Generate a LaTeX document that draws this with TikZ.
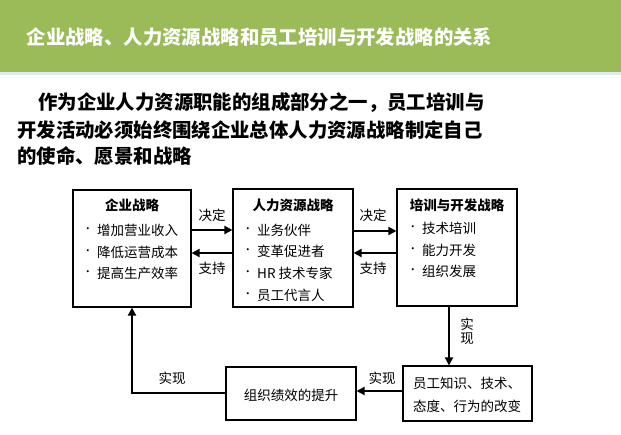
\documentclass[tikz,border=0pt]{standalone}
\usepackage{fontspec}
\setmainfont{Noto Sans CJK SC}
\usetikzlibrary{arrows.meta}
\definecolor{bandgreen}{HTML}{9BBB59}
\definecolor{bandline}{HTML}{DCECF2}
\tikzset{
  box/.style={draw=black, line width=1.2pt, minimum width=#1, inner sep=0pt},
  box/.default=120pt,
  ttl/.style={font=\fontsize{13.5}{15}\selectfont\bfseries, inner sep=0pt},
  itm/.style={font=\fontsize{13.5}{15}\selectfont, inner sep=0pt, anchor=west,
     label={[font=\fontsize{10}{12}\selectfont, inner sep=0pt, label distance=4pt]left:{•}}},
  lbl/.style={font=\fontsize{13.5}{15}\selectfont, inner sep=0pt},
  arr/.style={line width=2.2pt, -{Triangle[length=8pt,width=8pt]}},
  body/.style={font=\fontsize{19.4}{22}\selectfont\bfseries, inner sep=0pt, anchor=west},
}
\begin{document}
\begin{tikzpicture}[x=1pt,y=-1pt]
\useasboundingbox (0,0) rectangle (621,435);
\fill[white] (0,0) rectangle (621,435);
\fill[bandgreen] (0,0) rectangle (621,72);
\fill[bandline] (0,72) rectangle (621,75);
\node[font=\fontsize{19.4}{22}\selectfont\bfseries, text=white, inner sep=0pt] (title) at (259.5,37) {企业战略、人力资源战略和员工培训与开发战略的关系};
\node[body] (l1) at (38,103) {作为企业人力资源职能的组成部分之一，员工培训与};
\node[body] (l2) at (17,130) {开发活动必须始终围绕企业总体人力资源战略制定自己};
\node[body] (l3) at (17,156) {的使命、愿景和战略};

\node[box=118pt, minimum height=117pt] (b1) at (132,248.5) {};
\node[box=120pt, minimum height=118pt] (b2) at (293,248) {};
\node[box=120pt, minimum height=117pt] (b3) at (457,247.5) {};
\node[box=129pt, minimum height=55pt] (b4) at (467.5,393.5) {};
\node[box=130pt, minimum height=53pt] (b5) at (291,393.5) {};

\node[ttl] (t1) at (132,205) {企业战略};
\node[itm] (i11) at (97,230) {增加营业收入};
\node[itm] (i12) at (97,252) {降低运营成本};
\node[itm] (i13) at (97,273) {提高生产效率};

\node[ttl] (t2) at (293,205) {人力资源战略};
\node[itm] (i21) at (257,230) {业务伙伴};
\node[itm] (i22) at (257,251) {变革促进者};
\node[itm] (i23) at (257,273) {HR 技术专家};
\node[itm] (i24) at (257,295) {员工代言人};

\node[ttl] (t3) at (457,205) {培训与开发战略};
\node[itm] (i31) at (422,228) {技术培训};
\node[itm] (i32) at (422,250) {能力开发};
\node[itm] (i33) at (422,271) {组织发展};

\node[lbl, align=left, anchor=west] (t4) at (413,394.5) {员工知识、技术、\\[8pt]态度、行为的改变};
\node[lbl] (t5) at (291,395) {组织绩效的提升};

\draw[arr] (b1.east |- 0,230) -- (b2.west |- 0,230);
\draw[arr] (b2.west |- 0,253) -- (b1.east |- 0,253);
\draw[arr] (b2.east |- 0,231) -- (b3.west |- 0,231);
\draw[arr] (b3.west |- 0,253) -- (b2.east |- 0,253);
\draw[arr] (b3.south -| 449,0) -- (b4.north -| 449,0);
\draw[arr] (b4.west |- 0,391) -- (b5.east |- 0,391);
\draw[arr] (b5.west |- 0,393) -- (132,393) -- (b1.south -| 132,0);

\node[lbl] (d1) at (212,215) {决定};
\node[lbl] (s1) at (212,268) {支持};
\node[lbl] (d2) at (373,215) {决定};
\node[lbl] (s2) at (373,268) {支持};
\node[lbl, align=center] (r1) at (467,331.5) {实\\[-1pt]现};
\node[lbl] (r2) at (382,378) {实现};
\node[lbl] (r3) at (172,378) {实现};
\end{tikzpicture}
\end{document}
